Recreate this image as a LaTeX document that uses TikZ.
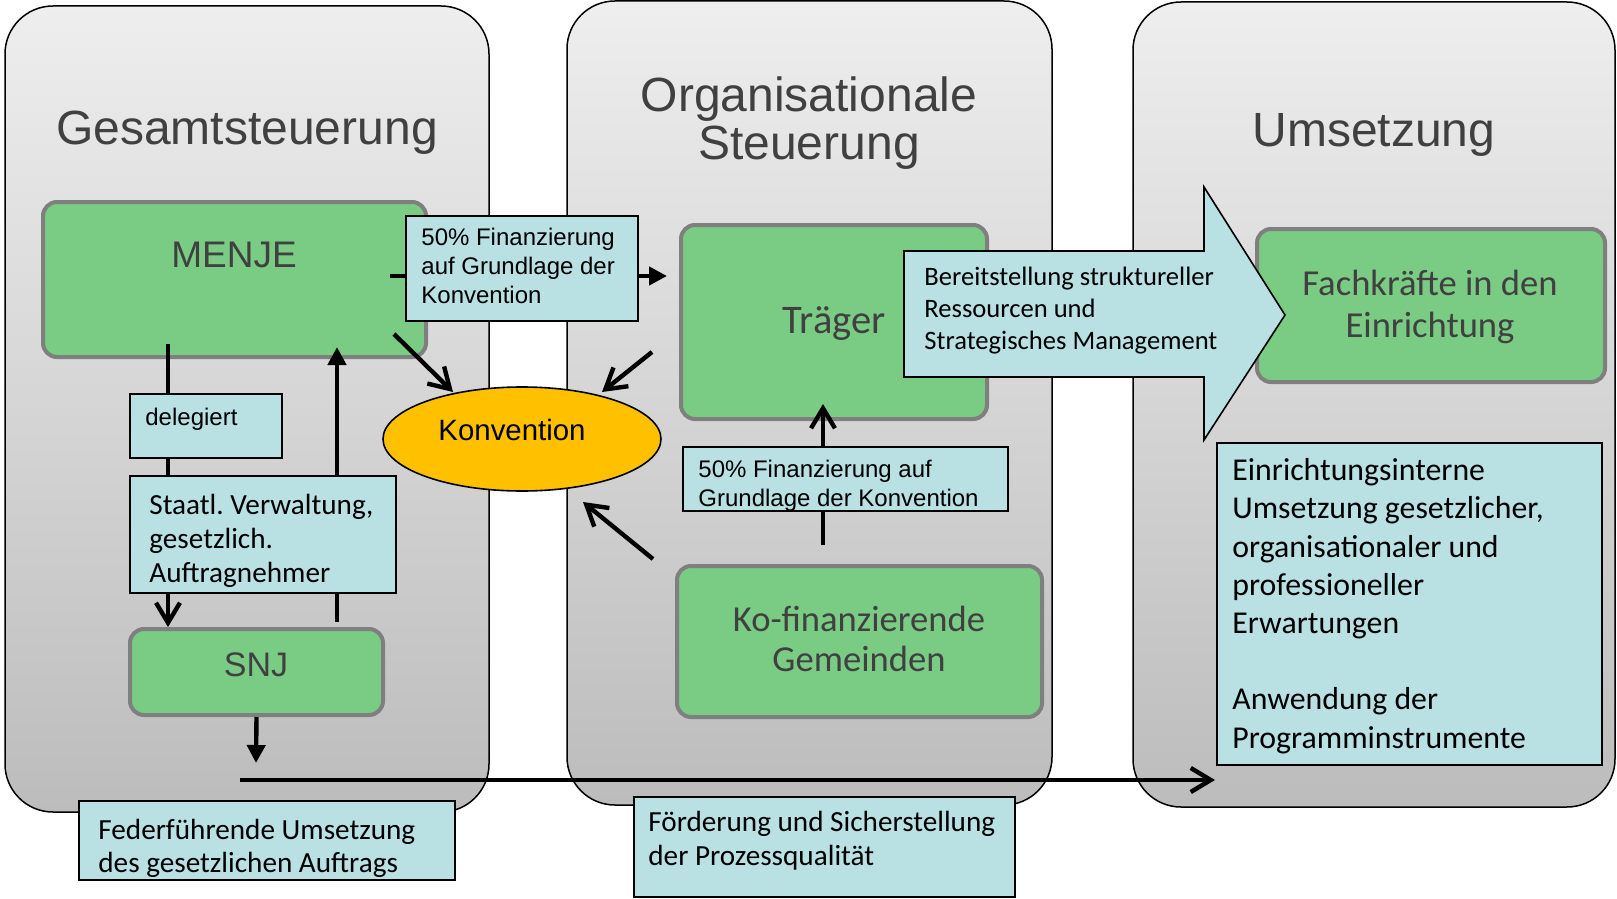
\documentclass[tikz,border=0pt]{standalone}
\usepackage{fontspec}
\setmainfont{Liberation Sans}
\newfontfamily\carlito{Carlito}
\usepackage{tikz}
\usetikzlibrary{
    shapes,
    fit,
    positioning,
    arrows.meta
}
\usepackage{xcolor}
\definecolor{panelTop}{HTML}{EEEEEE}
\definecolor{panelBot}{HTML}{BCBCBC}
\definecolor{boxGreen}{HTML}{7ACB84}
\definecolor{boxRim}{HTML}{7F7F7F}
\definecolor{boxBlue}{HTML}{B9E0E3}
\definecolor{konvOrange}{HTML}{FFC000}
\definecolor{textGray}{HTML}{404040}
\frenchspacing

\begin{document}
\begin{tikzpicture}[x=0.5pt, y=-0.5pt]
                  % Styles for panels, boxes and arrows
                  \tikzset{
                        panel/.style={draw=black, line width=0.75pt, rounded corners=24pt, top color=panelTop, bottom color=panelBot},
                        greenbox/.style={draw=boxRim, line width=2pt, fill=boxGreen, rounded corners=7pt, inner sep=0pt},
                        bluebox/.style={draw=black, line width=0.8pt, fill=boxBlue, inner sep=0pt},
                        title/.style={text=textGray, font=\fontsize{24}{24.5}\selectfont, align=center, inner sep=0pt},
                        greentext/.style={text=textGray, inner sep=0pt, align=center},
                        smalltext/.style={font=\fontsize{12}{14.5}\selectfont, align=left, inner sep=0pt},
                        conn/.style={line width=2.2pt, black},
                        barb/.style={conn, -{Straight Barb[length=10pt, width=12pt]}},
                        tri/.style={conn, -{Triangle[length=9pt, width=9pt]}}
                  };

                  \useasboundingbox (0,0) rectangle (1617,899);

                  % Three panels
                  \draw[panel] (5,6) rectangle (489,812);
                  \draw[panel] (567,1) rectangle (1052,805);
                  \draw[panel] (1133,2) rectangle (1615,807);

                  % Panel titles (base = last line)
                  \node[title, anchor=base] (T_gesamt) at (247,145) {Gesamtsteuerung};
                  \node[title, anchor=base] (T_orga) at (809,160) {Organisationale\\Steuerung};
                  \node[title, anchor=base] (T_umsetz) at (1374,147) {Umsetzung};

                  % Green boxes (actors)
                  \node[greenbox, fit={(43,202) (426,357)}] (MENJE) {};
                  \node[greenbox, fit={(130,629) (383,715)}] (SNJ) {};
                  \node[greenbox, fit={(681,225) (987,419)}] (Traeger) {};
                  \node[greenbox, fit={(677,566) (1042,717)}] (KoFin) {};
                  \node[greenbox, fit={(1257,229) (1605,382)}] (Fach) {};

                  \node[greentext, font=\fontsize{18.5}{20}\selectfont, anchor=base] (MENJE_t) at (234,267) {MENJE};
                  \node[greentext, font=\fontsize{17}{20}\selectfont, anchor=base] (SNJ_t) at (256,676) {SNJ};
                  \node[greentext, font=\carlito\fontsize{20.3}{22}\selectfont, anchor=base] (Traeger_t) at (834,333) {Träger};
                  \node[greentext, font=\carlito\fontsize{18.3}{20}\selectfont, anchor=base] (KoFin_t) at (859,671) {Ko-finanzierende\\Gemeinden};
                  \node[greentext, font=\carlito\fontsize{18.3}{21}\selectfont, anchor=base] (Fach_t) at (1430,337) {Fachkräfte in den\\Einrichtung};

                  % Konvention
                  \node[draw=black, line width=0.8pt, fill=konvOrange, ellipse, minimum width=139pt, minimum height=52pt, inner sep=0pt] (Konv) at (522,439) {};
                  \node[font=\fontsize{14.7}{16}\selectfont, anchor=base, inner sep=0pt] (Konv_t) at (512,440) {Konvention};

                  % Blue label boxes
                  \node[bluebox, fit={(406,216) (638,321)}] (Fin_top) {};
                  \node[smalltext, anchor=base west] (Fin_top_t) at (421,303) {50\% Finanzierung\\auf Grundlage der\\Konvention};

                  \node[bluebox, fit={(683,447) (1008,511)}] (Fin_mid) {};
                  \node[smalltext, anchor=base west] (Fin_mid_t) at (698,506) {50\% Finanzierung auf\\Grundlage der Konvention};

                  \node[bluebox, fit={(130,394) (282,458)}] (Deleg) {};
                  \node[smalltext, anchor=base west] (Deleg_t) at (145,425) {delegiert};

                  \node[bluebox, fit={(130,476) (396,593)}] (Staatl) {};
                  \node[font=\carlito\fontsize{14.6}{16.8}\selectfont, align=left, inner sep=0pt, anchor=base west] (Staatl_t) at (149,582) {Staatl. Verwaltung,\\gesetzlich.\\Auftragnehmer};

                  \node[bluebox, fit={(79,801) (455,880)}] (Federf) {};
                  \node[font=\carlito\fontsize{14.6}{16.5}\selectfont, align=left, inner sep=0pt, anchor=base west] (Federf_t) at (98,872) {Federführende Umsetzung\\des gesetzlichen Auftrags};

                  \node[bluebox, fit={(634,797) (1015,897)}] (Foerd) {};
                  \node[font=\carlito\fontsize{14.6}{17}\selectfont, align=left, inner sep=0pt, anchor=base west] (Foerd_t) at (648,865) {Förderung und Sicherstellung\\der Prozessqualität};

                  \node[bluebox, fit={(1217,443) (1602,765)}] (Einr) {};
                  \node[font=\carlito\fontsize{15.9}{19.1}\selectfont, align=left, inner sep=0pt, anchor=base west] (Einr_t) at (1232,748) {Einrichtungsinterne\\Umsetzung gesetzlicher,\\organisationaler und\\professioneller\\Erwartungen\\ \\Anwendung der\\Programminstrumente};

                  % Block arrow towards the Fachkraefte
                  \draw[fill=boxBlue, line width=0.8pt, line join=miter] (904,251) -- (1204,251) -- (1204,187) -- (1285,315) -- (1204,440) -- (1204,377) -- (904,377) -- cycle;
                  \node[font=\carlito\fontsize{13.3}{15.8}\selectfont, align=left, inner sep=0pt, anchor=base west] (Bereit_t) at (924,349) {Bereitstellung struktureller\\Ressourcen und\\Strategisches Management};

                  % Free ends of the connectors
                  \coordinate (menje_out) at (390,276);
                  \coordinate (traeger_in) at (667,276);
                  \coordinate (menje_k) at (394,334);
                  \coordinate (konv_nw) at (453,392);
                  \coordinate (traeger_k) at (652,352);
                  \coordinate (konv_ne) at (602,392);
                  \coordinate (kofin_k) at (653,559);
                  \coordinate (konv_se) at (583,502);
                  \coordinate (kofin_up) at (823,545);
                  \coordinate (traeger_bot) at (823,404);
                  \coordinate (menje_down) at (168,344);
                  \coordinate (snj_up) at (337,622);
                  \coordinate (menje_bot) at (337,347);
                  \coordinate (snj_down) at (256,763);
                  \coordinate (line_start) at (240,780);
                  \coordinate (line_end) at (1215,780);

                  % Financing MENJE -> Traeger
                  \draw[conn] (menje_out) -- (menje_out -| Fin_top.west);
                  \draw[tri] (menje_out -| Fin_top.east) -- (traeger_in);

                  % Arrows into the Konvention
                  \draw[barb] (menje_k) -- (konv_nw);
                  \draw[barb] (traeger_k) -- (konv_ne);
                  \draw[barb] (kofin_k) -- (konv_se);

                  % Ko-finanzierende -> Traeger
                  \draw[conn] (kofin_up) -- (kofin_up |- Fin_mid.south);
                  \draw[barb] (kofin_up |- Fin_mid.north) -- (traeger_bot);

                  % MENJE delegiert an SNJ
                  \draw[conn] (menje_down) -- (menje_down |- Deleg.north);
                  \draw[conn] (menje_down |- Deleg.south) -- (menje_down |- Staatl.north);
                  \draw[barb] (menje_down |- Staatl.south) -- (menje_down |- SNJ.north);

                  % SNJ -> MENJE
                  \draw[conn] (snj_up) -- (snj_up |- Staatl.south);
                  \draw[tri] (snj_up |- Staatl.north) -- (menje_bot);

                  % SNJ -> Umsetzung
                  \draw[tri] (SNJ.south) -- (snj_down);
                  \draw[barb] (line_start) -- (line_end);
            \end{tikzpicture}
\end{document}
